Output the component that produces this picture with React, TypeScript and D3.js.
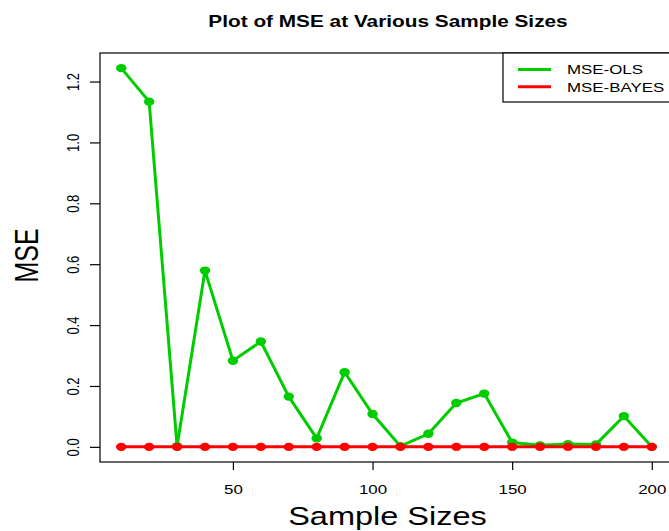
import { useEffect, useRef } from "react";
import * as d3 from "d3";

const sampleSizes = [10, 20, 30, 40, 50, 60, 70, 80, 90, 100, 110, 120, 130, 140, 150, 160, 170, 180, 190, 200];
const mseOls = [1.244, 1.134, 0.002, 0.579, 0.283, 0.346, 0.165, 0.028, 0.245, 0.108, 0.002, 0.043, 0.144, 0.175, 0.014, 0.005, 0.009, 0.008, 0.101, 0.0];
const mseBayes = [0, 0, 0, 0, 0, 0, 0, 0, 0, 0, 0, 0, 0, 0, 0, 0, 0, 0, 0, 0];
const xTicks = [50, 100, 150, 200];
const yTicks = [0, 0.2, 0.4, 0.6, 0.8, 1.0, 1.2];
const seriesNames = ["MSE-OLS", "MSE-BAYES"];
const seriesColors = ["#00cd00", "#ff0000"];

export default function App() {
  const ref = useRef(null);
  const width = 669;
  const height = 531;
  const margin = { top: 53, right: -4, bottom: 69, left: 100 };
  // the picture is a bit wider than tall, so text gets stretched in x
  const sx = 1.3;

  useEffect(() => {
    draw();
  });

  function draw() {
    const svg = d3.select(ref.current);
    svg.selectAll("*").remove();
    const font = "Liberation Sans, Arial, sans-serif";
    const stretch = "scale(" + sx + ",1)";

    // R style 4% padding on the ranges
    const xPad = (200 - 10) * 0.04;
    const yMax = d3.max(mseOls)!;
    const yPad = yMax * 0.04;
    const x = d3
      .scaleLinear()
      .domain([10 - xPad, 200 + xPad])
      .range([margin.left, width - margin.right]);
    const y = d3
      .scaleLinear()
      .domain([0 - yPad, yMax + yPad])
      .range([height - margin.bottom, margin.top]);

    // title
    svg
      .append("text")
      .attr("transform", "translate(388,26.5) " + stretch)
      .attr("text-anchor", "middle")
      .attr("font-family", font)
      .attr("font-weight", 700)
      .attr("font-size", 16)
      .text("Plot of MSE at Various Sample Sizes");

    // box
    svg
      .append("rect")
      .attr("x", x.range()[0])
      .attr("y", y.range()[1])
      .attr("width", x.range()[1] - x.range()[0])
      .attr("height", y.range()[0] - y.range()[1])
      .attr("fill", "none")
      .attr("stroke", "#000")
      .attr("stroke-width", 1.2);

    // x axis
    const xAxis = svg
      .append("g")
      .attr("transform", "translate(0," + (height - margin.bottom) + ")")
      .call(d3.axisBottom(x).tickValues(xTicks).tickSize(8).tickSizeOuter(0));
    xAxis.select(".domain").remove();
    xAxis.selectAll("line").attr("stroke-width", 1.2);
    xAxis
      .selectAll("text")
      .attr("y", 32.5)
      .attr("dy", null)
      .attr("transform", stretch)
      .attr("font-family", font)
      .attr("font-size", 13)
      .attr("fill", "#000");

    // y axis
    const yAxis = svg
      .append("g")
      .attr("transform", "translate(" + margin.left + ",0)")
      .call(d3.axisLeft(y).tickValues(yTicks).tickFormat(d3.format(".1f")).tickSize(10).tickSizeOuter(0));
    yAxis.select(".domain").remove();
    yAxis.selectAll("line").attr("stroke-width", 1.2);
    yAxis
      .selectAll("text")
      .attr("font-family", font)
      .attr("font-size", 13)
      .attr("fill", "#000")
      .attr("text-anchor", "middle")
      .attr("dy", null)
      .attr("x", null)
      .attr("transform", "translate(-27.5,0) " + stretch + " rotate(-90)")
      .attr("dominant-baseline", "central");

    // axis labels
    svg
      .append("text")
      .attr("transform", "translate(387.5,525) " + stretch)
      .attr("text-anchor", "middle")
      .attr("font-family", font)
      .attr("font-size", 25)
      .text("Sample Sizes");
    svg
      .append("text")
      .attr("transform", "translate(26.5,255.5) " + stretch + " rotate(-90)")
      .attr("text-anchor", "middle")
      .attr("dominant-baseline", "central")
      .attr("font-family", font)
      .attr("font-size", 25)
      .text("MSE");

    const line = d3
      .line<number>()
      .x((d, i) => x(sampleSizes[i]))
      .y((d) => y(d));

    [mseOls, mseBayes].forEach((series, k) => {
      svg
        .append("path")
        .datum(series)
        .attr("d", line)
        .attr("fill", "none")
        .attr("stroke", seriesColors[k])
        .attr("stroke-width", 3);
      svg
        .selectAll(null)
        .data(series)
        .enter()
        .append("ellipse")
        .attr("cx", (d, i) => x(sampleSizes[i]))
        .attr("cy", (d) => y(d))
        .attr("rx", 5.2)
        .attr("ry", 4.2)
        .attr("fill", seriesColors[k]);
    });

    // legend
    const legend = svg.append("g");
    legend
      .append("rect")
      .attr("x", 503)
      .attr("y", 53)
      .attr("width", 200)
      .attr("height", 49)
      .attr("fill", "#fff")
      .attr("stroke", "#000")
      .attr("stroke-width", 1.2);
    seriesNames.forEach((name, k) => {
      const ly = 69.5 + k * 17.3;
      legend
        .append("line")
        .attr("x1", 518)
        .attr("x2", 551)
        .attr("y1", ly)
        .attr("y2", ly)
        .attr("stroke", seriesColors[k])
        .attr("stroke-width", 3);
      legend
        .append("text")
        .attr("transform", "translate(567," + ly + ") " + stretch)
        .attr("dominant-baseline", "central")
        .attr("font-family", font)
        .attr("font-size", 13)
        .text(name);
    });
  }

  return (
    <svg
      width={width}
      height={height}
      ref={ref}
      style={{ position: "absolute", left: 0, top: 0, background: "#fff" }}
    ></svg>
  );
}
